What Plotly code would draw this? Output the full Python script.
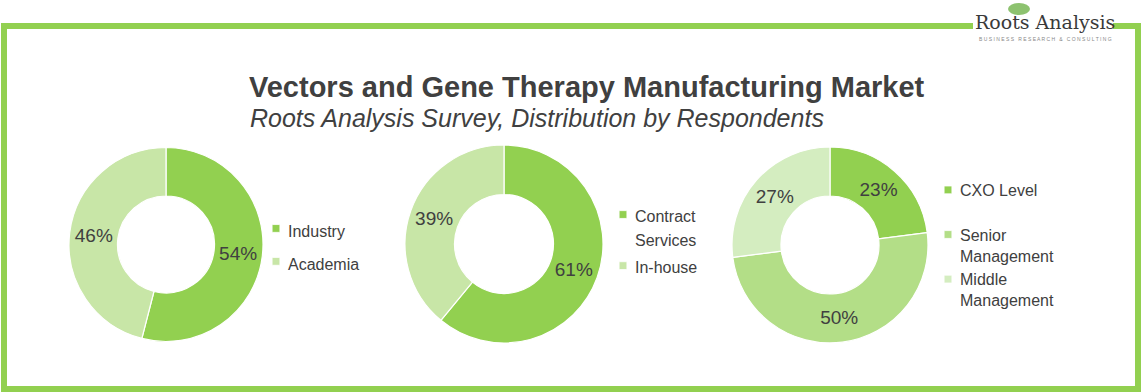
import plotly.graph_objects as go

# ---- data ----
labels1 = ["Industry", "Academia"]
values1 = [54, 46]
labels2 = ["Contract<br>Services", "In-house"]
values2 = [61, 39]
labels3 = ["CXO Level", "Senior<br>Management", "Middle<br>Management"]
values3 = [23, 50, 27]

colors1 = ["#92D050", "#C8E6A7"]
colors2 = ["#92D050", "#C8E6A7"]
colors3 = ["#92D050", "#B3DE87", "#D4EDC0"]

title = "Vectors and Gene Therapy Manufacturing Market"
subtitle = "Roots Analysis Survey, Distribution by Respondents"

W, H = 1145, 392
FONT = "Liberation Sans, Arial, sans-serif"
TXT = "#404040"


def px(x):
    return x / W


def py(y):
    return (H - y) / H


def styled(lbl, extra_line=False):
    lines = lbl.split("<br>")
    s = "<br>".join("<span style='font-size:16px'>%s</span>" % ln for ln in lines)
    if extra_line:
        s += "<br> "
    return s


def pie(labels, values, colors, x0, x1, y0, y1, legend, shown):
    return go.Pie(
        labels=shown, values=values, hole=0.5, sort=False,
        direction="clockwise", rotation=0,
        marker=dict(colors=colors, line=dict(color="white", width=1.2)),
        texttemplate="%{percent:.0%}", textposition="inside",
        insidetextorientation="horizontal",
        textfont=dict(family=FONT, size=19, color=TXT),
        domain=dict(x=[px(x0), px(x1)], y=[py(y1), py(y0)]),
        legend=legend,
        customdata=[l.replace("<br>", " ") for l in labels],
        hovertemplate="%{customdata}: %{percent}<extra></extra>",
    )


fig = go.Figure()
fig.add_trace(pie(labels1, values1, colors1, 69, 263, 147, 342, "legend",
                  [styled(l) for l in labels1]))
fig.add_trace(pie(labels2, values2, colors2, 405, 603, 145, 343, "legend2",
                  [styled(l) for l in labels2]))
fig.add_trace(pie(labels3, values3, colors3, 732, 928, 147, 343, "legend3",
                  [styled(l, i == 0) for i, l in enumerate(labels3)]))

leg = dict(bgcolor="rgba(0,0,0,0)",
           xanchor="left", yanchor="top", valign="top", itemclick=False,
           traceorder="normal")

fig.update_layout(
    width=W, height=H, autosize=False,
    margin=dict(l=0, r=0, t=0, b=0),
    paper_bgcolor="white", plot_bgcolor="white",
    showlegend=True,
    legend=dict(leg, x=px(248), y=py(207), font=dict(family=FONT, size=23, color=TXT)),
    legend2=dict(leg, x=px(595), y=py(196), font=dict(family=FONT, size=18.5, color=TXT)),
    legend3=dict(leg, x=px(920), y=py(173), font=dict(family=FONT, size=16, color=TXT)),
    shapes=[
        dict(type="rect", xref="paper", yref="paper",
             x0=px(4), x1=px(1138), y0=py(389), y1=py(26),
             line=dict(color="#92D050", width=6), fillcolor="rgba(0,0,0,0)",
             layer="below"),
        dict(type="rect", xref="paper", yref="paper",
             x0=px(973), x1=px(1113), y0=py(34), y1=py(0),
             line=dict(width=0), fillcolor="white", layer="below"),
        dict(type="circle", xref="paper", yref="paper",
             x0=px(1008), x1=px(1030), y0=py(15), y1=py(3),
             line=dict(width=0), fillcolor="#8DC26F", layer="below"),
    ],
    annotations=[
        dict(text="<b>" + title + "</b>", x=px(587), y=py(87), xref="paper", yref="paper",
             showarrow=False, xanchor="center", yanchor="middle",
             font=dict(family=FONT, size=29, color=TXT)),
        dict(text="<i>" + subtitle + "</i>", x=px(248), y=py(118), xref="paper", yref="paper",
             showarrow=False, xanchor="left", yanchor="middle",
             font=dict(family=FONT, size=25, color=TXT)),
        dict(text="Roots Analysis", x=px(1045), y=py(22), xref="paper", yref="paper",
             showarrow=False, xanchor="center", yanchor="middle",
             font=dict(family="DejaVu Serif, serif", size=19, color="#3a3a3a")),
        dict(text="B U S I N E S S   R E S E A R C H   &   C O N S U L T I N G",
             x=px(1045), y=py(39), xref="paper", yref="paper",
             showarrow=False, xanchor="center", yanchor="middle",
             font=dict(family=FONT, size=5, color="#888888")),
    ],
)

post = (
    "document.body.style.margin='0';"
    "document.querySelectorAll('.legendpoints path').forEach(function(p){"
    "var t=p.getAttribute('transform')||'';"
    "p.setAttribute('transform', 'translate(8,0) '+t+' scale(0.65)');});"
)

fig.write_html("out.html", post_script=post, config={"displayModeBar": False})
